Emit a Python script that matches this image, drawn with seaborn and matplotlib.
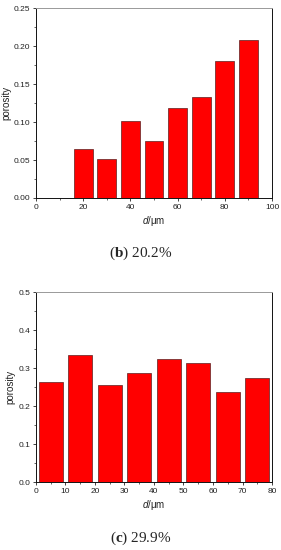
import numpy as np
import pandas as pd
import matplotlib
matplotlib.use("Agg")
import matplotlib.pyplot as plt
import seaborn as sns
from matplotlib.ticker import MultipleLocator

# data
d_b = [20, 30, 40, 50, 60, 70, 80, 90]
por_b = [0.064, 0.052, 0.102, 0.075, 0.119, 0.133, 0.180, 0.208]

d_c = [5, 15, 25, 35, 45, 55, 65, 75]
por_c = [0.263, 0.334, 0.255, 0.287, 0.324, 0.314, 0.238, 0.275]

sns.set_style("ticks")
plt.rcParams['font.family'] = ['Liberation Sans', 'DejaVu Sans']
plt.rcParams['mathtext.fontset'] = 'custom'
plt.rcParams['mathtext.it'] = 'Liberation Sans:italic'
plt.rcParams['mathtext.bf'] = 'Liberation Serif:bold'
plt.rcParams['mathtext.rm'] = 'Liberation Serif'

fig = plt.figure(figsize=(2.81, 5.5), dpi=100)
ax1 = fig.add_axes([0.128, 0.640, 0.840, 0.345])
ax2 = fig.add_axes([0.128, 0.1236, 0.840, 0.345])


def draw(ax, d, por, xmax, ymax, ymaj, ymin_, xmaj, xmin_, fmt):
    df = pd.DataFrame({"d": d, "porosity": por})
    sns.barplot(data=df, x="d", y="porosity", native_scale=True, width=0.8,
                color="#ff0000", saturation=1, edgecolor="#5a2020",
                linewidth=0.5, ax=ax)
    ax.set_xlim(0, xmax)
    ax.set_ylim(0, ymax)
    ax.yaxis.set_major_locator(MultipleLocator(ymaj))
    ax.yaxis.set_minor_locator(MultipleLocator(ymin_))
    ax.xaxis.set_major_locator(MultipleLocator(xmaj))
    ax.xaxis.set_minor_locator(MultipleLocator(xmin_))
    ax.yaxis.set_major_formatter(plt.FormatStrFormatter(fmt))
    ax.tick_params(which="major", direction="out", length=2.5, width=0.6,
                   labelsize=6, pad=1.5, colors="#222222")
    ax.tick_params(which="minor", direction="out", length=1.5, width=0.5)
    for s in ["left", "bottom", "right"]:
        ax.spines[s].set_color("#111111")
        ax.spines[s].set_linewidth(0.7)
    ax.spines["top"].set_color("#999999")
    ax.spines["top"].set_linewidth(0.7)
    ax.spines["top"].set_visible(True)
    ax.spines["right"].set_visible(True)
    ax.set_ylabel("porosity", fontsize=7, labelpad=2, color="#222222")
    ax.set_xlabel("$d$/μm", fontsize=7, labelpad=2.5, color="#222222")


draw(ax1, d_b, por_b, 100, 0.25, 0.05, 0.025, 20, 10, "%.2f")
draw(ax2, d_c, por_c, 80, 0.5, 0.1, 0.05, 10, 5, "%.1f")

fig.text(0.5, 1 - 253 / 550, r"($\mathbf{b}$) 20.2%", ha="center", va="center",
         fontsize=11, family="Liberation Serif")
fig.text(0.5, 1 - 538 / 550, r"($\mathbf{c}$) 29.9%", ha="center", va="center",
         fontsize=11, family="Liberation Serif")

fig.savefig("out.png", dpi=100)
